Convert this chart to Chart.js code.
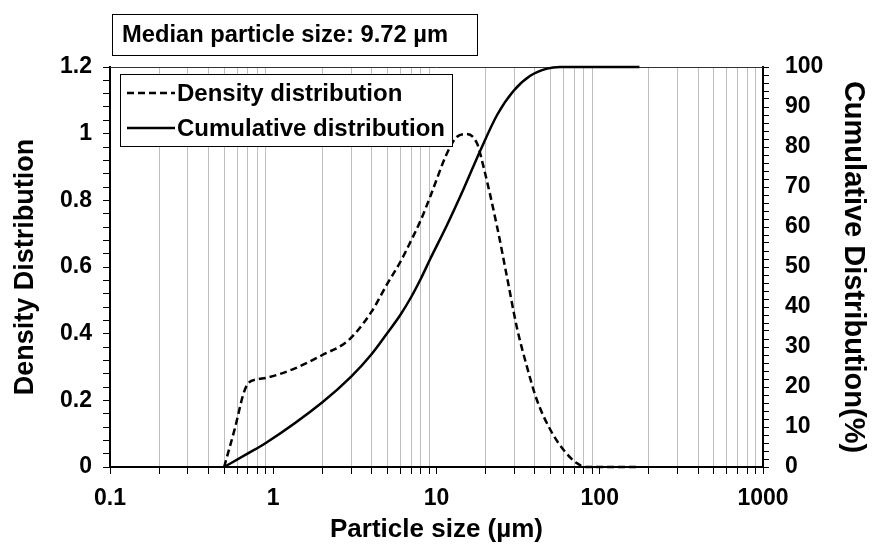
<!DOCTYPE html>
<html>
<head>
<meta charset="utf-8">
<script src="https://cdn.jsdelivr.net/npm/chart.js@4.4.1/dist/chart.umd.min.js"></script>
<style>
  html, body { margin: 0; padding: 0; background: #fff; }
  #wrap { width: 872px; height: 544px; }
</style>
</head>
<body>
<div id="wrap"><canvas id="chart" width="872" height="544"></canvas></div>
<script>
const FONT = "'Liberation Sans', Arial, sans-serif";

const chartTitle = "Median particle size: 9.72 µm";
const densityLabel = "Density distribution";
const cumulativeLabel = "Cumulative distribution";

// density distribution (left axis)
const densitySize = [0.5, 0.585, 0.657, 0.7, 0.8, 0.9, 1.36, 2.0, 2.9, 4.0, 5.0, 6.0, 7.0, 8.0, 9.15, 11.6, 13.3, 15.3, 17.7, 19.4, 23.5, 27.0, 31.0, 35.8, 41.2, 49.9, 60.1, 72.6, 83, 120, 175];
const densityValue = [0, 0.12, 0.22, 0.25, 0.263, 0.267, 0.296, 0.336, 0.381, 0.466, 0.55, 0.615, 0.68, 0.74, 0.811, 0.941, 0.99, 0.999, 0.971, 0.901, 0.721, 0.571, 0.421, 0.301, 0.201, 0.111, 0.051, 0.011, 0, 0, 0];

// cumulative distribution (right axis, %)
const cumulativeSize = [0.5, 0.7, 0.9, 2.0, 3.0, 4.0, 5.0, 6.0, 7.0, 8.0, 9.15, 11.6, 14.65, 18.5, 23.5, 29.6, 37.5, 47.5, 57.3, 175];
const cumulativeValue = [0, 3.4, 6.0, 16.2, 22.6, 28.2, 33.5, 38, 42.5, 47, 52, 60.5, 69.5, 79, 88, 94, 97.8, 99.6, 100, 100];

// log axis ticks: decades with minor steps 2..9
const xDecades = [0.1, 1, 10, 100];
const xMinorSteps = [1, 2, 3, 4, 5, 6, 7, 8, 9];
const xTickValues = [];
xDecades.forEach(d => xMinorSteps.forEach(m => xTickValues.push(+(d * m).toPrecision(3))));
xTickValues.push(1000);

const isDecade = v => Math.abs(Math.log10(v) - Math.round(Math.log10(v))) < 1e-9;

const toPoints = (xs, ys) => xs.map((x, i) => ({ x: x, y: ys[i] }));

const plotFrame = {
    id: "plotFrame",
    beforeDatasetsDraw(chart) {
        const { ctx, chartArea } = chart;
        ctx.save();
        ctx.strokeStyle = "#333";
        ctx.lineWidth = 1;
        ctx.beginPath();
        ctx.moveTo(chartArea.left, chartArea.top + 0.5);
        ctx.lineTo(chartArea.right, chartArea.top + 0.5);
        ctx.stroke();
        ctx.restore();
    },
    afterDraw(chart) {
        const ctx = chart.ctx;
        ctx.save();
        // title box
        ctx.fillStyle = "#fff";
        ctx.fillRect(112, 14, 365, 41);
        ctx.strokeStyle = "#000";
        ctx.lineWidth = 1;
        ctx.strokeRect(112.5, 14.5, 365, 41);
        ctx.fillStyle = "#000";
        ctx.font = "bold 24px " + FONT;
        ctx.textBaseline = "middle";
        ctx.textAlign = "left";
        ctx.fillText(chartTitle, 122, 35, 326);

        // legend box
        ctx.fillStyle = "#fff";
        ctx.fillRect(120, 74, 332, 72);
        ctx.strokeRect(120.5, 74.5, 332, 72);
        const rows = [93, 128];
        chart.data.datasets.forEach((ds, i) => {
            ctx.strokeStyle = ds.borderColor;
            ctx.lineWidth = ds.borderWidth;
            ctx.setLineDash(ds.borderDash || []);
            ctx.beginPath();
            ctx.moveTo(127, rows[i]);
            ctx.lineTo(175, rows[i]);
            ctx.stroke();
            ctx.setLineDash([]);
            ctx.fillStyle = "#000";
            ctx.fillText(ds.label, 177, rows[i] + 1);
        });
        ctx.restore();
    }
};

const ctx = document.getElementById("chart").getContext("2d");
new Chart(ctx, {
    type: "line",
    data: {
        datasets: [
            {
                label: densityLabel,
                data: toPoints(densitySize, densityValue),
                yAxisID: "y",
                borderColor: "#000",
                borderWidth: 2.5,
                borderDash: [7, 4],
                pointRadius: 0,
                fill: false,
                cubicInterpolationMode: "monotone",
                clip: 3,
            },
            {
                label: cumulativeLabel,
                data: toPoints(cumulativeSize, cumulativeValue),
                yAxisID: "y2",
                borderColor: "#000",
                borderWidth: 2.5,
                pointRadius: 0,
                fill: false,
                cubicInterpolationMode: "monotone",
                clip: 3,
            },
        ],
    },
    options: {
        responsive: false,
        animation: false,
        layout: { padding: { top: 67, left: 0, right: 0, bottom: 0 } },
        scales: {
            x: {
                type: "logarithmic",
                min: 0.1,
                max: 1000,
                afterBuildTicks: (scale) => {
                    scale.ticks = xTickValues.map(v => ({ value: v }));
                },
                afterFit: (scale) => { scale.height = 77; },
                ticks: {
                    autoSkip: false,
                    maxRotation: 0,
                    padding: 11,
                    color: "#000",
                    font: { family: FONT, size: 23, weight: "bold" },
                    callback: (v) => isDecade(v) ? String(v) : "",
                },
                grid: {
                    color: (c) => (c.tick && isDecade(c.tick.value)) ? "rgba(0,0,0,0)" : "#bfbfbf",
                    tickColor: "#000",
                    tickLength: 7,
                    lineWidth: 1,
                },
                border: { color: "#000", width: 2 },
                title: {
                    display: true,
                    text: "Particle size (µm)",
                    color: "#000",
                    font: { family: FONT, size: 26, weight: "bold", lineHeight: 1 },
                    padding: { top: 0, bottom: 1 },
                },
            },
            y: {
                position: "left",
                min: 0,
                max: 1.2,
                afterFit: (scale) => { scale.width = 110; },
                ticks: {
                    stepSize: 0.04,
                    autoSkip: false,
                    padding: 11,
                    color: "#000",
                    font: { family: FONT, size: 23, weight: "bold" },
                    callback: (v) => {
                        const k = v / 0.2;
                        return Math.abs(k - Math.round(k)) < 1e-6 ? String(+(v.toFixed(1))) : "";
                    },
                },
                grid: { drawOnChartArea: false, tickLength: 7, tickColor: "#000", color: "#000" },
                border: { color: "#000", width: 2 },
                title: {
                    display: true,
                    text: "Density Distribution",
                    color: "#000",
                    font: { family: FONT, size: 27, weight: "bold", lineHeight: 1 },
                    padding: { top: 12, bottom: 0 },
                },
            },
            y2: {
                position: "right",
                min: 0,
                max: 100,
                afterFit: (scale) => { scale.width = 109; },
                ticks: {
                    stepSize: 2,
                    autoSkip: false,
                    padding: 16,
                    color: "#000",
                    font: { family: FONT, size: 23, weight: "bold" },
                    callback: (v) => (Math.round(v) % 10 === 0 ? String(Math.round(v)) : ""),
                },
                grid: { drawOnChartArea: false, tickLength: 6, tickColor: "#000", color: "#000" },
                border: { color: "#000", width: 2 },
                title: {
                    display: true,
                    text: "Cumulative Distribution(%)",
                    color: "#000",
                    font: { family: FONT, size: 29, weight: "bold", lineHeight: 1 },
                    padding: { top: 5, bottom: 0 },
                },
            },
        },
        plugins: {
            legend: { display: false },
            title: { display: false },
            tooltip: { enabled: false },
        },
    },
    plugins: [plotFrame],
});
</script>
</body>
</html>
